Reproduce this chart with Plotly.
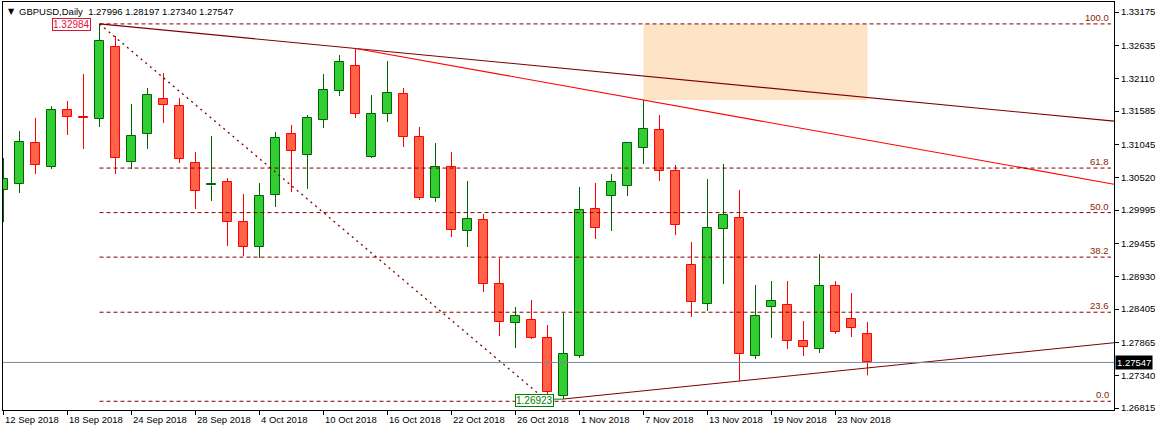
import plotly.graph_objects as go

# ---------------- data ----------------
date_labels = ['12 Sep 2018', '18 Sep 2018', '24 Sep 2018', '28 Sep 2018', '4 Oct 2018',
               '10 Oct 2018', '16 Oct 2018', '22 Oct 2018', '26 Oct 2018', '1 Nov 2018',
               '7 Nov 2018', '13 Nov 2018', '19 Nov 2018', '23 Nov 2018']
date_label_idx = [0, 4, 8, 12, 16, 20, 24, 28, 32, 36, 40, 44, 48, 52]

opens = [1.30316, 1.30413, 1.31071, 1.30686, 1.31601, 1.31489, 1.31457, 1.32613, 1.30766, 1.31216,
         1.31778, 1.31665, 1.30750, 1.30389, 1.30445, 1.29802, 1.29401, 1.30236, 1.31216, 1.30878,
         1.31441, 1.31906, 1.32308, 1.30846, 1.31537, 1.31858, 1.31168, 1.30188, 1.30686, 1.29658,
         1.29835, 1.28807, 1.28180, 1.28228, 1.27939, 1.27008, 1.27650, 1.30011, 1.30220, 1.30381,
         1.30991, 1.31280, 1.30622, 1.29112, 1.28485, 1.29690, 1.29867, 1.27650, 1.28437, 1.28469,
         1.27891, 1.27763, 1.28774, 1.28244, 1.27996]
highs = [1.30830, 1.31264, 1.31473, 1.31665, 1.31746, 1.32179, 1.32984, 1.32790, 1.31698, 1.31955,
         1.32195, 1.31794, 1.30927, 1.31184, 1.30509, 1.30252, 1.30429, 1.31248, 1.31360, 1.31521,
         1.32179, 1.32484, 1.32590, 1.31842, 1.32388, 1.31955, 1.31328, 1.31071, 1.30927, 1.30461,
         1.29931, 1.29224, 1.28437, 1.28550, 1.28148, 1.28341, 1.30365, 1.30429, 1.30573, 1.31087,
         1.31762, 1.31521, 1.30718, 1.29481, 1.30493, 1.30734, 1.30316, 1.28791, 1.28855, 1.28855,
         1.28212, 1.29288, 1.28855, 1.28662, 1.28197]
lows = [1.29802, 1.30268, 1.30573, 1.30654, 1.31200, 1.30975, 1.31328, 1.30573, 1.30654, 1.30975,
        1.31392, 1.30750, 1.30011, 1.30140, 1.29417, 1.29256, 1.29224, 1.30043, 1.30284, 1.30332,
        1.31312, 1.31826, 1.31473, 1.30830, 1.31408, 1.31007, 1.30156, 1.30124, 1.29561, 1.29401,
        1.28678, 1.27971, 1.27779, 1.27923, 1.26923, 1.26960, 1.27618, 1.29529, 1.29658, 1.30220,
        1.30734, 1.30461, 1.29594, 1.28277, 1.28373, 1.28807, 1.27249, 1.27602, 1.27939, 1.27763,
        1.27650, 1.27698, 1.28004, 1.27955, 1.27340]
closes = [1.30493, 1.31087, 1.30718, 1.31601, 1.31489, 1.31473, 1.32709, 1.30830, 1.31184, 1.31842,
          1.31681, 1.30814, 1.30300, 1.30405, 1.29802, 1.29401, 1.30220, 1.31152, 1.30943, 1.31473,
          1.31922, 1.32372, 1.31537, 1.31537, 1.31874, 1.31168, 1.30188, 1.30686, 1.29674, 1.29851,
          1.28807, 1.28196, 1.28293, 1.27939, 1.27072, 1.27682, 1.29995, 1.29706, 1.30445, 1.31071,
          1.31296, 1.30622, 1.29754, 1.28518, 1.29706, 1.29915, 1.27682, 1.28293, 1.28534, 1.27891,
          1.27795, 1.28774, 1.28036, 1.28100, 1.27547]

price_ticks = [1.33175, 1.32635, 1.32110, 1.31585, 1.31045, 1.30520, 1.29995,
               1.29455, 1.28930, 1.28405, 1.27865, 1.27340, 1.26815]

fib_levels = [0.0, 23.6, 38.2, 50.0, 61.8, 100.0]
fib_high, fib_high_idx = 1.32984, 6
fib_low, fib_low_idx = 1.26923, 34
last_price = 1.27547
title_text = 'GBPUSD,Daily  1.27996 1.28197 1.27340 1.27547'

# trendline anchors (bar index, price)
upper_line = [(6, 1.32984), (22, 1.32590)]
mid_line = [(22, 1.32590), (40, 1.31762)]
lower_line = [(35, 1.26960), (46, 1.27249)]
zone = dict(x0=40, x1=54, y0=1.31762, y1=1.32984)

# ---------------- styling ----------------
GREEN_FILL, GREEN_LINE = '#32CD32', '#006400'
RED_FILL, RED_LINE = '#FF6347', '#FF0000'
DARKRED = '#800000'
FONT = 'Liberation Sans, Arial, sans-serif'
FS = 9.5
X0 = -0.03125
X1 = X0 + 1111 / 16.0
Y0, Y1 = 1.26783, 1.33336

fig = go.Figure()

# wicks
for up, color in ((True, GREEN_LINE), (False, RED_LINE)):
    xs, ys = [], []
    for i, (o, h, l, c) in enumerate(zip(opens, highs, lows, closes)):
        if (c >= o) != up:
            continue
        top, bot = max(o, c), min(o, c)
        xs += [i, i, None, i, i, None]
        ys += [h, top, None, bot, l, None]
    fig.add_trace(go.Scatter(x=xs, y=ys, mode='lines', line=dict(color=color, width=1),
                             hoverinfo='skip', showlegend=False))

# bodies
for up, fill, line in ((True, GREEN_FILL, GREEN_LINE), (False, RED_FILL, RED_LINE)):
    xs, bases, hs = [], [], []
    for i, (o, c) in enumerate(zip(opens, closes)):
        if (c >= o) != up:
            continue
        xs.append(i)
        bases.append(min(o, c))
        hs.append(max(abs(c - o), 0.00008))
    fig.add_trace(go.Bar(x=xs, y=hs, base=bases, width=0.6,
                         marker=dict(color=fill, line=dict(color=line, width=1)),
                         hoverinfo='skip', showlegend=False))

shapes = []
# zone rectangle
shapes.append(dict(type='rect', xref='x', yref='y', layer='below', line=dict(width=0),
                   fillcolor='#FDE4C6', **zone))


def extend(pts, xe):
    (xa, ya), (xb, yb) = pts
    return ya + (yb - ya) * (xe - xa) / (xb - xa)


for pts, col in ((upper_line, DARKRED), (mid_line, '#FF0000'), (lower_line, DARKRED)):
    shapes.append(dict(type='line', xref='x', yref='y', x0=pts[0][0], y0=pts[0][1],
                       x1=X1, y1=extend(pts, X1), line=dict(color=col, width=1.1)))

# fibonacci
fib_right = X1 - 3 / 16.0
for lv in fib_levels:
    p = fib_low + lv / 100.0 * (fib_high - fib_low)
    shapes.append(dict(type='line', xref='x', yref='y', x0=fib_high_idx, x1=fib_right, y0=p, y1=p,
                       line=dict(color=DARKRED, width=1, dash='4px,3px')))
shapes.append(dict(type='line', xref='x', yref='y', x0=fib_high_idx, y0=fib_high,
                   x1=fib_low_idx, y1=fib_low, line=dict(color=DARKRED, width=1.3, dash='2px,4px')))
# current price line
shapes.append(dict(type='line', xref='paper', yref='y', x0=0, x1=1, y0=last_price, y1=last_price,
                   line=dict(color='#778899', width=1)))
# low label connector
shapes.append(dict(type='line', xref='x', yref='y', x0=fib_low_idx + 0.4, x1=lower_line[0][0],
                   y0=lower_line[0][1] - 0.00003, y1=lower_line[0][1] - 0.00003,
                   line=dict(color='#008000', width=1)))

ann = []
for idx, lab in zip(date_label_idx, date_labels):
    ann.append(dict(x=idx, y=0, xref='x', yref='paper', text=lab, showarrow=False,
                    xanchor='left', yanchor='top', xshift=-1, yshift=-2,
                    font=dict(family=FONT, size=FS, color='black')))
for lv in fib_levels:
    p = fib_low + lv / 100.0 * (fib_high - fib_low)
    ann.append(dict(x=fib_right, y=p, xref='x', yref='y', text=f'{lv:.1f}', showarrow=False,
                    xanchor='right', yanchor='bottom', yshift=-1,
                    font=dict(family=FONT, size=FS, color='#8B2500')))
ann.append(dict(x=1, y=last_price, xref='paper', yref='y', text=f'{last_price:.5f}', showarrow=False,
                xanchor='left', yanchor='middle', xshift=1, bgcolor='black', borderpad=1,
                font=dict(family=FONT, size=FS, color='white')))
ann.append(dict(x=fib_high_idx, y=fib_high, xref='x', yref='y', text=f'{fib_high:.5f}', showarrow=False,
                xanchor='right', yanchor='middle', xshift=-9, yshift=-1, bgcolor='white',
                bordercolor='#DC143C', borderwidth=1, borderpad=0,
                font=dict(family=FONT, size=FS + 0.5, color='#DC143C')))
ann.append(dict(x=lower_line[0][0], y=fib_low, xref='x', yref='y', text=f'{fib_low:.5f}', showarrow=False,
                xanchor='right', yanchor='middle', xshift=-10, yshift=1, bgcolor='white',
                bordercolor='#008000', borderwidth=1, borderpad=0,
                font=dict(family=FONT, size=FS + 0.5, color='#008000')))
ann.append(dict(x=0, y=1, xref='paper', yref='paper', text='▼', showarrow=False,
                xanchor='left', yanchor='top', xshift=3, yshift=-3,
                font=dict(family='DejaVu Sans', size=8, color='black')))
ann.append(dict(x=0, y=1, xref='paper', yref='paper', text=title_text, showarrow=False,
                xanchor='left', yanchor='top', xshift=14, yshift=-2,
                font=dict(family=FONT, size=FS, color='black')))

fig.update_layout(
    width=1157, height=431,
    margin=dict(l=3, r=43, t=2, b=21, pad=0),
    paper_bgcolor='white', plot_bgcolor='white',
    barmode='overlay', bargap=0,
    shapes=shapes, annotations=ann,
    showlegend=False,
    xaxis=dict(range=[X0, X1], showgrid=False, zeroline=False, showline=True, linecolor='black',
               linewidth=1, mirror=True, ticks='outside', ticklen=4, tickcolor='black',
               tickvals=date_label_idx, showticklabels=False, fixedrange=True),
    yaxis=dict(range=[Y0, Y1], side='right', showgrid=False, zeroline=False, showline=True,
               linecolor='black', linewidth=1, mirror=True, ticks='outside', ticklen=4,
               tickcolor='black', tickvals=price_ticks, ticktext=[f'{v:.5f}' for v in price_ticks],
               tickfont=dict(family=FONT, size=FS, color='black'), fixedrange=True),
)

fig.write_html("out.html", config={'displayModeBar': False},
               post_script="document.body.style.margin='0';document.body.style.overflow='hidden';")
